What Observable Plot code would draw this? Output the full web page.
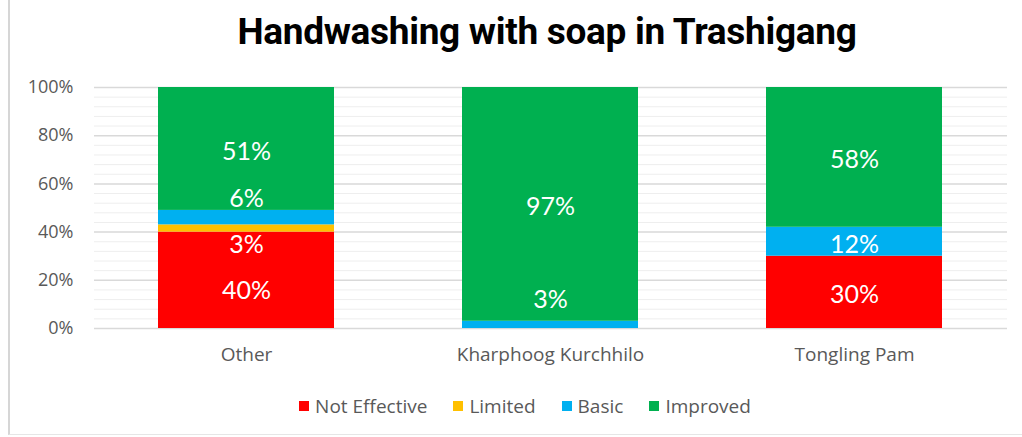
<!DOCTYPE html>
<html>
<head>
<meta charset="utf-8">
<script src="https://cdn.jsdelivr.net/npm/d3@7"></script>
<script src="https://cdn.jsdelivr.net/npm/@observablehq/plot@0.6"></script>
<style>
  body { margin: 0; background: #fff; }
  #wrap { position: relative; width: 1022px; height: 437px; overflow: hidden; }
  #border { position: absolute; left: 8px; top: 0; width: 1020px; height: 435px;
            border-left: 2px solid #d6d6d6; border-bottom: 1px solid #e6e6e6; box-sizing: border-box; }
  #title { position: absolute; left: 47px; top: 10px; width: 1000px; text-align: center;
           font-family: Roboto, sans-serif; font-weight: 700; font-size: 37px; color: #000; letter-spacing: -0.3px; }
  #chart { position: absolute; left: 0; top: 58px; }
  #legend { position: absolute; left: 0; top: 393px; width: 1022px; display: flex; justify-content: center;
            font-family: "Open Sans", sans-serif; font-size: 19px; color: #595959; padding-left: 28px; box-sizing: border-box; }
  .item { display: flex; align-items: center; margin: 0 13px; }
  .sw { width: 10px; height: 10px; margin-right: 6px; }
</style>
</head>
<body>
<div id="wrap">
  <div id="border"></div>
  <div id="title">Handwashing with soap in Trashigang</div>
  <div id="chart"></div>
  <div id="legend"></div>
</div>
<script>
const categories = ["Other", "Kharphoog Kurchhilo", "Tongling Pam"];
const levels = ["Not Effective", "Limited", "Basic", "Improved"];
const colors = ["#FF0000", "#FFC000", "#00B0F0", "#00B050"];
const notEffective = [40, 0, 30];
const limited = [3, 0, 0];
const basic = [6, 3, 12];
const improved = [51, 97, 58];
const majorTicks = [0, 20, 40, 60, 80, 100];

const series = [notEffective, limited, basic, improved];
const rows = [];
categories.forEach((cat, i) => {
  levels.forEach((lev, j) => {
    const v = series[j][i];
    if (v > 0) rows.push({cat, level: lev, value: v});
  });
});

// label layout: segment middles, spread apart when they collide
const labels = [];
categories.forEach((cat, i) => {
  let acc = 0;
  const group = [];
  levels.forEach((lev, j) => {
    const v = series[j][i];
    if (v > 0) {
      group.push({cat, value: v, ly: acc + v / 2});
      acc += v;
    }
  });
  const gap = 19;
  for (let it = 0; it < 200; it++) {
    group.sort((a, b) => a.ly - b.ly);
    for (let k = 0; k < group.length - 1; k++) {
      const a = group[k], b = group[k + 1];
      if (b.ly - a.ly < gap) {
        const c = (a.ly + b.ly) / 2;
        a.ly = c - gap / 2; b.ly = c + gap / 2;
      }
    }
    group.forEach(g => { g.ly = Math.max(13, Math.min(92, g.ly)); });
  }
  labels.push(...group);
});

const minorTicks = d3.range(0, 101, 4).filter(t => t % 20 !== 0);

const chart = Plot.plot({
  width: 1022,
  height: 310,
  marginLeft: 94,
  marginRight: 15,
  marginTop: 29,
  marginBottom: 40,
  style: {fontFamily: "'Open Sans', sans-serif", fontSize: "18px", color: "#595959", background: "transparent"},
  x: {domain: categories, paddingInner: 0.42, paddingOuter: 0.21, label: null, tickSize: 0, tickPadding: 18},
  y: {domain: [0, 100], label: null, ticks: majorTicks, tickFormat: d => d + "%", tickSize: 0, tickPadding: 21},
  color: {domain: levels, range: colors},
  marks: [
    Plot.ruleY(minorTicks, {stroke: "#eeeeee", strokeWidth: 1}),
    Plot.ruleY(majorTicks, {stroke: "#d9d9d9", strokeWidth: 1.5}),
    Plot.barY(rows, Plot.stackY({x: "cat", y: "value", fill: "level", order: levels})),
    Plot.text(labels, {x: "cat", y: "ly", text: d => d.value + "%", fill: "white", dy: 3,
                       fontSize: 25, fontFamily: "Lato, sans-serif"}),
    Plot.axisX({fontSize: 19, tickSize: 0, tickPadding: 19, label: null})
  ]
});
document.getElementById("chart").appendChild(chart);

const legend = document.getElementById("legend");
levels.forEach((lev, j) => {
  const item = document.createElement("div");
  item.className = "item";
  const sw = document.createElement("span");
  sw.className = "sw";
  sw.style.background = colors[j];
  const tx = document.createElement("span");
  tx.textContent = lev;
  item.appendChild(sw);
  item.appendChild(tx);
  legend.appendChild(item);
});
</script>
</body>
</html>
